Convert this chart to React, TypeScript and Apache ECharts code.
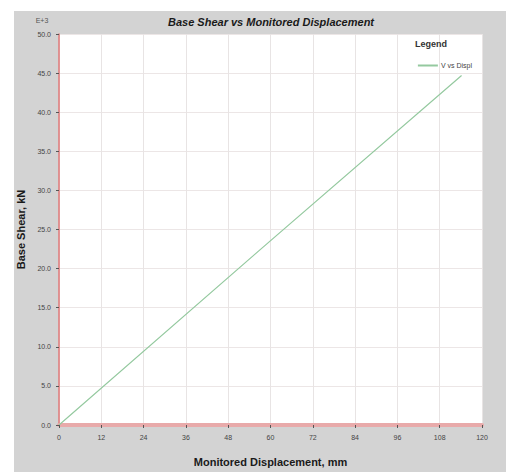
import React, { useEffect, useRef } from "react";
import * as echarts from "echarts";

const displacement = [0, 57, 114.2];
const baseShear = [0, 22.4, 44.7];
const xTicks = [0, 12, 24, 36, 48, 60, 72, 84, 96, 108, 120];
const yTicks = [0, 5, 10, 15, 20, 25, 30, 35, 40, 45, 50];
const seriesName = "V vs Displ";

export default function App() {
  const ref = useRef<HTMLDivElement>(null);
  useEffect(() => {
    if (!ref.current) return;
    const chart = echarts.init(ref.current, null, { renderer: "svg" });
    const data = displacement.map((d, i) => [d, baseShear[i]]);
    chart.setOption({
      animation: false,
      backgroundColor: "#ffffff",
      textStyle: { fontFamily: "Liberation Sans, Arial, sans-serif" },
      graphic: [
        { type: "rect", z: -10, shape: { x: 14, y: 11, width: 492, height: 461 }, style: { fill: "#d3d3d3" } },
        { type: "text", x: 271, y: 22, style: { text: "Base Shear vs Monitored Displacement", fill: "#1a1a1a", font: "italic bold 11px Liberation Sans, Arial, sans-serif", align: "center", verticalAlign: "middle" } },
        { type: "text", x: 42, y: 20, style: { text: "E+3", fill: "#555", font: "7px Liberation Sans, Arial, sans-serif", align: "center", verticalAlign: "middle" } },
        { type: "text", x: 431, y: 44, z: 10, style: { text: "Legend", fill: "#333", font: "bold 9px Liberation Sans, Arial, sans-serif", align: "center", verticalAlign: "middle" } },
      ],
      title: { show: false },
      legend: {
        show: true,
        right: 29,
        top: 57,
        itemWidth: 20,
        itemHeight: 2,
        itemGap: 4,
        icon: "rect",
        textStyle: { fontSize: 7, color: "#444", padding: [0, 0, 0, -2] },
        data: [seriesName],
      },
      grid: { left: 59, top: 34, width: 423, height: 404, show: true, backgroundColor: "#ffffff", borderWidth: 0 },
      xAxis: {
        type: "value",
        min: 0,
        max: 120,
        interval: 12,
        name: "Monitored Displacement, mm",
        nameLocation: "middle",
        nameGap: 31,
        nameTextStyle: { fontSize: 11, fontWeight: "bold", color: "#1a1a1a" },
        axisLine: { show: true, onZero: false, lineStyle: { color: "#e8aaaa", width: 4 } },
        axisTick: { show: true, length: 3, lineStyle: { color: "#555" } },
        axisLabel: { fontSize: 7, color: "#444", margin: 9, formatter: (v: number) => (xTicks.includes(v) ? String(v) : "") },
        splitLine: { show: true, lineStyle: { color: "#e8e4e4", width: 1 } },
      },
      yAxis: {
        type: "value",
        min: 0,
        max: 50,
        interval: 5,
        name: "Base Shear, kN",
        nameLocation: "middle",
        nameGap: 30,
        nameTextStyle: { fontSize: 11, fontWeight: "bold", color: "#1a1a1a" },
        axisLine: { show: true, onZero: false, lineStyle: { color: "#e07a7a", width: 1.5 } },
        axisTick: { show: true, length: 3, lineStyle: { color: "#555" } },
        axisLabel: { fontSize: 7, color: "#444", margin: 8, formatter: (v: number) => (yTicks.includes(v) ? v.toFixed(1) : "") },
        splitLine: { show: true, lineStyle: { color: "#ece6e6", width: 1 } },
      },
      series: [
        {
          name: seriesName,
          type: "line",
          data,
          showSymbol: false,
          lineStyle: { color: "#94c99f", width: 1.2 },
          itemStyle: { color: "#94c99f" },
        },
      ],
    });
    return () => chart.dispose();
  }, []);
  return <div ref={ref} style={{ position: "absolute", left: 0, top: 0, width: 506, height: 472 }} />;
}
